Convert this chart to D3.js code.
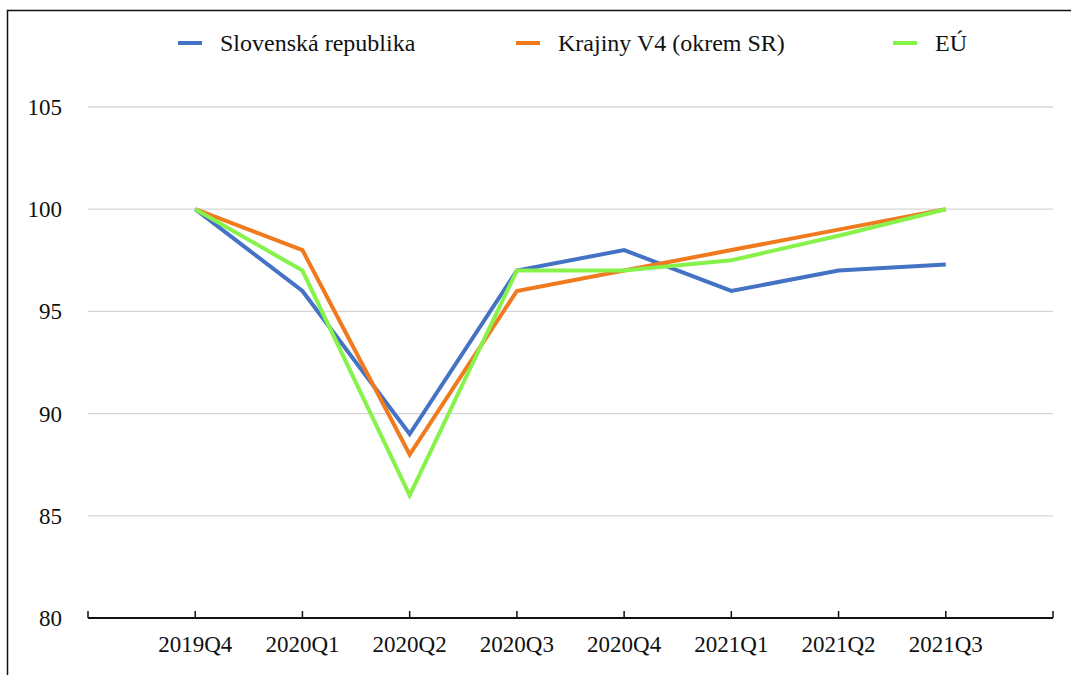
<!DOCTYPE html>
<html>
<head>
<meta charset="utf-8">
<script src="https://cdn.jsdelivr.net/npm/d3@7"></script>
<style>
  body { margin: 0; background: #fff; }
</style>
</head>
<body>
<div id="chart"></div>
<script>
// quarters on the x axis
const quarters = ["2019Q4", "2020Q1", "2020Q2", "2020Q3", "2020Q4", "2021Q1", "2021Q2", "2021Q3"];
// series values (index, 2019Q4 = 100)
const slovensko = [100, 96, 89, 97, 98, 96, 97, 97.3];
const krajinyV4 = [100, 98, 88, 96, 97, 98, 99, 100];
const eu = [100, 97, 86, 97, 97, 97.5, 98.7, 100];
const seriesNames = ["Slovenská republika", "Krajiny V4 (okrem SR)", "EÚ"];
const yTicks = [80, 85, 90, 95, 100, 105];

const width = 1071, height = 675;
const margin = { top: 107, right: 18, bottom: 57, left: 88 };
const colors = ["#4472c4", "#f07a1e", "#86f24a"];
const serif = "'Liberation Serif', 'Times New Roman', 'DejaVu Serif', serif";

const svg = d3.select("#chart")
  .append("svg")
  .attr("width", width)
  .attr("height", height)
  .style("font-family", serif);

// outer frame (right and bottom are cut off in the original)
svg.append("rect")
  .attr("x", 7.5).attr("y", 10.5)
  .attr("width", width + 20).attr("height", height + 20)
  .attr("fill", "none")
  .attr("stroke", "#111")
  .attr("stroke-width", 1.5);

const x = d3.scalePoint()
  .domain(quarters)
  .range([margin.left, width - margin.right])
  .padding(1);

const y = d3.scaleLinear()
  .domain([80, 105])
  .range([height - margin.bottom, margin.top]);

// gridlines
svg.append("g")
  .selectAll("line")
  .data(yTicks.filter((d) => d > 80))
  .join("line")
  .attr("x1", margin.left)
  .attr("x2", width - margin.right)
  .attr("y1", (d) => y(d))
  .attr("y2", (d) => y(d))
  .attr("stroke", "#d6d6d6")
  .attr("stroke-width", 1.3);

// y labels
svg.append("g")
  .selectAll("text")
  .data(yTicks)
  .join("text")
  .attr("x", 62)
  .attr("y", (d) => y(d))
  .attr("dy", "0.35em")
  .attr("text-anchor", "end")
  .attr("font-family", serif)
  .attr("fill", "#111")
  .style("font-size", "23px")
  .text((d) => d);

// x axis, ticks point up into the plot
const xAxis = svg.append("g")
  .attr("transform", "translate(0," + y(80) + ")");

xAxis.append("line")
  .attr("x1", margin.left)
  .attr("x2", width - margin.right)
  .attr("stroke", "#111")
  .attr("stroke-width", 2);

const tickPos = [margin.left].concat(quarters.map((q) => x(q)), [width - margin.right]);
xAxis.selectAll(".tick")
  .data(tickPos)
  .join("line")
  .attr("class", "tick")
  .attr("x1", (d) => d)
  .attr("x2", (d) => d)
  .attr("y1", 0)
  .attr("y2", -7)
  .attr("stroke", "#111")
  .attr("stroke-width", 1.5);

xAxis.selectAll(".lbl")
  .data(quarters)
  .join("text")
  .attr("class", "lbl")
  .attr("x", (d) => x(d))
  .attr("y", 34)
  .attr("text-anchor", "middle")
  .attr("font-family", serif)
  .attr("fill", "#111")
  .style("font-size", "23px")
  .text((d) => d);

// lines
const line = d3.line()
  .x((d, i) => x(quarters[i]))
  .y((d) => y(d));

[slovensko, krajinyV4, eu].forEach(function (values, i) {
  svg.append("path")
    .datum(values)
    .attr("d", line)
    .attr("fill", "none")
    .attr("stroke", colors[i])
    .attr("stroke-width", 4)
    .attr("stroke-linejoin", "miter");
});

// legend
const legendX = [178, 516, 893];
const legend = svg.append("g");
seriesNames.forEach(function (name, i) {
  legend.append("line")
    .attr("x1", legendX[i])
    .attr("x2", legendX[i] + 24)
    .attr("y1", 43)
    .attr("y2", 43)
    .attr("stroke", colors[i])
    .attr("stroke-width", 4);
  legend.append("text")
    .attr("x", legendX[i] + 42)
    .attr("y", 43)
    .attr("dy", "0.35em")
    .attr("font-family", serif)
    .attr("fill", "#111")
    .style("font-size", "24px")
    .text(name);
});
</script>
</body>
</html>
